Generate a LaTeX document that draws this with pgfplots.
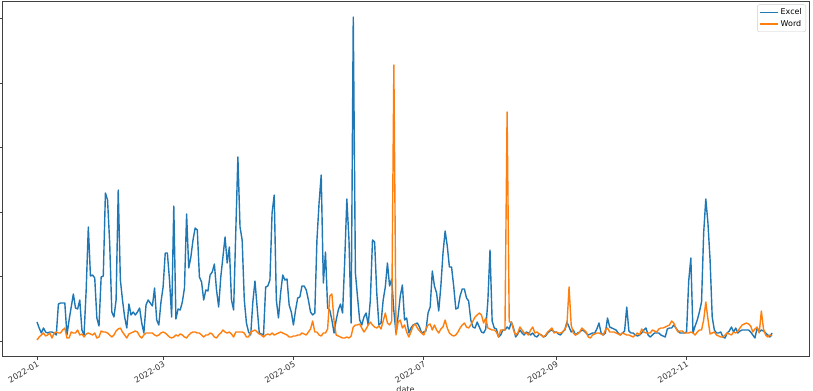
\documentclass[border=0pt]{standalone}
\usepackage{fontspec}
\setmainfont{DejaVu Sans}
\usepackage{pgfplots}
\pgfplotsset{compat=1.18}
\definecolor{tabblue}{HTML}{1F77B4}
\definecolor{taborange}{HTML}{FF7F0E}
\begin{document}
\begin{tikzpicture}
\begin{axis}[
 name=ax,
 scale only axis, width=807bp, height=355bp,
 xmin=-16.4, xmax=361.3, ymin=-15, ymax=340,
 xtick={0,59,120,181,243,304},
 xticklabels={2022-01,2022-03,2022-05,2022-07,2022-09,2022-11},
 xticklabel style={rotate=30, anchor=north east, font=\fontsize{8.1}{9}\selectfont, text=black!80, inner sep=1bp},
 ytick={0,64.5,129,193.5,258,322.5},
 yticklabels={},
 tick align=outside, xtick pos=bottom, ytick pos=left,
 major tick length=3.5bp,
 tick style={black!75, line width=0.6bp},
 axis line style={black!75, line width=0.7bp},
 xlabel={date},
 xlabel style={at={(axis description cs:0.5,0)}, anchor=north, yshift=-30.5bp, inner sep=0pt, font=\fontsize{8.1}{9}\selectfont, text=black!80},
 legend style={at={(1,1)}, anchor=north east, xshift=-3bp, yshift=-3.5bp, draw=black!20, rounded corners=2bp, font=\fontsize{8}{9}\selectfont, inner sep=2bp},
 legend cell align=left,
 legend image code/.code={\draw[#1, line width=1.4bp] (0bp,0bp) -- (18bp,0bp);},
 every axis plot/.append style={line width=1.4bp, line join=round},
]
\addplot[color=tabblue] coordinates {(0,19)(1,13)(2,8)(3,13)(4,9)(5,8)(6,9)(7,9)(8,8)(9,6)(10,37)(11,38)(12,38)(13,38)(14,6)(15,21)(16,34)(17,47)(18,33)(19,32)(20,41)(21,11)(22,6)(23,51)(24,114)(25,65)(26,66)(27,63)(28,23)(29,15)(30,64)(31,65)(32,148)(33,141)(34,98)(35,29)(36,24)(37,41)(38,151)(39,61)(40,41)(41,24)(42,13)(43,37)(44,26)(45,29)(46,26)(47,29)(48,33)(49,18)(50,8)(51,36)(52,41)(53,38)(54,35)(55,53)(56,21)(57,16)(58,39)(59,54)(60,88)(61,88)(62,61)(63,24)(64,135)(65,22)(66,32)(67,31)(68,39)(69,53)(70,127)(71,73)(72,84)(73,101)(74,113)(75,111)(76,64)(77,59)(78,41)(79,51)(80,50)(81,66)(82,69)(83,77)(84,51)(85,34)(86,64)(87,84)(88,104)(89,78)(90,94)(91,41)(92,31)(93,108)(94,184)(95,114)(96,101)(97,41)(98,18)(99,9)(100,6)(101,39)(102,60)(103,34)(104,8)(105,7)(106,6)(107,54)(108,55)(109,61)(110,128)(111,146)(112,41)(113,23)(114,48)(115,66)(116,61)(117,62)(118,36)(119,29)(120,16)(121,31)(122,43)(123,44)(124,55)(125,55)(126,51)(127,41)(128,29)(129,26)(130,28)(131,101)(132,138)(133,166)(134,58)(135,89)(136,33)(137,31)(138,21)(139,8)(140,21)(141,31)(142,37)(143,28)(144,80)(145,142)(146,101)(147,18)(148,324)(149,68)(150,44)(151,21)(152,16)(153,24)(154,28)(155,16)(156,41)(157,101)(158,99)(159,48)(160,16)(161,18)(162,41)(163,54)(164,78)(165,55)(166,62)(167,30)(168,8)(169,25)(170,45)(171,56)(172,21)(173,23)(174,8)(175,13)(176,16)(177,17)(178,18)(179,14)(180,8)(181,9)(182,10)(183,28)(184,34)(185,70)(186,55)(187,48)(188,30)(189,55)(190,88)(191,110)(192,95)(193,74)(194,74)(195,55)(196,32)(197,33)(198,45)(199,52)(200,52)(201,43)(202,40)(203,21)(204,14)(205,13)(206,19)(207,14)(208,9)(209,8)(210,12)(211,40)(212,91)(213,20)(214,13)(215,12)(216,4)(217,6)(218,11)(219,11)(220,14)(221,12)(222,19)(223,13)(224,4)(225,7)(226,11)(227,8)(228,6)(229,9)(230,8)(231,6)(232,8)(233,5)(234,4)(235,7)(236,6)(237,4)(238,5)(239,8)(240,10)(241,11)(242,9)(243,9)(244,7)(245,6)(246,9)(247,11)(248,19)(249,14)(250,9)(251,11)(252,6)(253,8)(254,9)(255,11)(256,10)(257,8)(258,6)(259,7)(260,8)(261,8)(262,12)(263,18)(264,8)(265,6)(266,8)(267,23)(268,14)(269,13)(270,12)(271,11)(272,8)(273,6)(274,8)(275,10)(276,34)(277,10)(278,8)(279,8)(280,6)(281,5)(282,6)(283,8)(284,11)(285,13)(286,6)(287,4)(288,6)(289,8)(290,8)(291,8)(292,6)(293,5)(294,4)(295,12)(296,13)(297,13)(298,16)(299,13)(300,10)(301,8)(302,8)(303,8)(304,9)(305,60)(306,83)(307,8)(308,15)(309,21)(310,29)(311,39)(312,108)(313,142)(314,118)(315,81)(316,24)(317,11)(318,8)(319,8)(320,9)(321,4)(322,3)(323,8)(324,10)(325,14)(326,9)(327,13)(328,8)(329,10)(330,11)(331,11)(332,11)(333,11)(334,9)(335,6)(336,3)(337,13)(338,9)(339,11)(340,10)(341,8)(342,6)(343,4)(344,8)};
\addlegendentry{Excel}
\addplot[color=taborange] coordinates {(0,1)(1,4)(2,6)(3,8)(4,5)(5,6)(6,8)(7,3)(8,8)(9,9)(10,8)(11,8)(12,11)(13,13)(14,3)(15,3)(16,9)(17,8)(18,8)(19,11)(20,6)(21,7)(22,4)(23,7)(24,8)(25,7)(26,6)(27,8)(28,3)(29,4)(30,10)(31,9)(32,9)(33,8)(34,6)(35,4)(36,6)(37,10)(38,12)(39,13)(40,9)(41,6)(42,3)(43,7)(44,8)(45,9)(46,10)(47,9)(48,5)(49,3)(50,6)(51,8)(52,8)(53,8)(54,8)(55,6)(56,5)(57,6)(58,8)(59,9)(60,8)(61,6)(62,4)(63,3)(64,4)(65,6)(66,5)(67,7)(68,6)(69,4)(70,3)(71,6)(72,8)(73,9)(74,9)(75,8)(76,8)(77,6)(78,4)(79,6)(80,6)(81,8)(82,7)(83,4)(84,3)(85,6)(86,8)(87,11)(88,9)(89,8)(90,9)(91,7)(92,4)(93,9)(94,9)(95,9)(96,9)(97,8)(98,4)(99,4)(100,9)(101,10)(102,11)(103,9)(104,7)(105,6)(106,4)(107,6)(108,7)(109,6)(110,8)(111,6)(112,7)(113,8)(114,9)(115,8)(116,7)(117,6)(118,4)(119,4)(120,5)(121,5)(122,6)(123,6)(124,8)(125,7)(126,6)(127,9)(128,12)(129,20)(130,9)(131,9)(132,6)(133,5)(134,8)(135,8)(136,12)(137,45)(138,47)(139,20)(140,6)(141,5)(142,4)(143,3)(144,3)(145,4)(146,3)(147,5)(148,14)(149,16)(150,16)(151,17)(152,13)(153,9)(154,12)(155,16)(156,19)(157,16)(158,14)(159,13)(160,15)(161,12)(162,20)(163,28)(164,18)(165,16)(166,20)(167,276)(168,6)(169,19)(170,21)(171,13)(172,16)(173,9)(174,4)(175,9)(176,15)(177,17)(178,13)(179,10)(180,8)(181,6)(182,12)(183,16)(184,17)(185,11)(186,16)(187,11)(188,8)(189,12)(190,14)(191,21)(192,13)(193,8)(194,6)(195,5)(196,6)(197,9)(198,13)(199,16)(200,18)(201,14)(202,13)(203,16)(204,20)(205,24)(206,26)(207,28)(208,26)(209,18)(210,23)(211,13)(212,12)(213,11)(214,11)(215,9)(216,4)(217,11)(218,11)(219,11)(220,229)(221,19)(222,19)(223,11)(224,6)(225,8)(226,14)(227,11)(228,8)(229,8)(230,6)(231,11)(232,14)(233,8)(234,9)(235,7)(236,6)(237,4)(238,6)(239,9)(240,11)(241,13)(242,8)(243,9)(244,8)(245,8)(246,9)(247,12)(248,16)(249,54)(250,16)(251,8)(252,6)(253,7)(254,9)(255,13)(256,11)(257,9)(258,4)(259,3)(260,6)(261,7)(262,8)(263,8)(264,7)(265,6)(266,11)(267,13)(268,9)(269,9)(270,9)(271,8)(272,7)(273,6)(274,8)(275,7)(276,6)(277,6)(278,5)(279,4)(280,6)(281,8)(282,6)(283,12)(284,9)(285,8)(286,8)(287,8)(288,11)(289,10)(290,9)(291,12)(292,13)(293,13)(294,14)(295,15)(296,16)(297,20)(298,18)(299,13)(300,9)(301,10)(302,10)(303,8)(304,8)(305,8)(306,9)(307,8)(308,6)(309,9)(310,11)(311,11)(312,21)(313,39)(314,22)(315,7)(316,8)(317,9)(318,6)(319,5)(320,4)(321,4)(322,6)(323,8)(324,7)(325,6)(326,9)(327,8)(328,10)(329,13)(330,16)(331,17)(332,18)(333,17)(334,15)(335,9)(336,12)(337,14)(338,8)(339,30)(340,12)(341,6)(342,4)(343,6)(344,5)};
\addlegendentry{Word}
\end{axis}
\pgfresetboundingbox
\path[use as bounding box] ([xshift=-2bp,yshift=-35bp]ax.south west) rectangle ([xshift=4bp,yshift=1bp]ax.north east);
\end{tikzpicture}
\end{document}
